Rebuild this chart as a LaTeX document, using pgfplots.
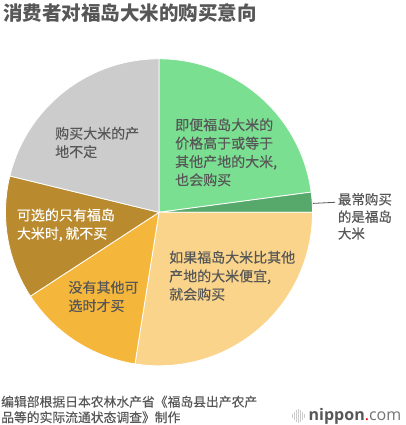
\documentclass[border=0pt]{standalone}
\usepackage{pgfplots}
\usepackage{pgfplotstable}
\pgfplotsset{compat=1.18}
\usepackage{fontspec}
\setmainfont{Noto Sans CJK SC}
\newfontfamily\medfont[FakeBold=0.35]{Noto Sans CJK SC}
\newfontfamily\logofont{Open Sans}

\definecolor{pgreen}{HTML}{7ADF91}
\definecolor{pdgreen}{HTML}{57A86B}
\definecolor{pyellow}{HTML}{FAD48A}
\definecolor{porange}{HTML}{F5B73B}
\definecolor{pgold}{HTML}{B98A2E}
\definecolor{pgray}{HTML}{CCCCCC}
\definecolor{txtgray}{HTML}{575757}

% share of answers, clockwise from 12 o'clock
\pgfplotstableread{
value colour
22.9  pgreen
2.1   pdgreen
27.5  pyellow
13.3  porange
13.0  pgold
21.2  pgray
}\piedata

% one line of text, centred vertically on y (pixel coords)
\newcommand\lbl[5][txtgray]{%
  \pgfmathsetmacro\bl{#3+0.38*#4}%
  \edef\tmp{\noexpand\node[anchor=base west, inner sep=0pt, text=#1,
    font=\noexpand\medfont\noexpand\fontsize{#4}{#4}\noexpand\selectfont] at (axis cs:#2,\bl)}%
  \tmp {#5};}
\newcommand\cm{,\hspace{2.5pt}}

\begin{document}
\begin{tikzpicture}
\begin{axis}[
    x=1pt, y=1pt,
    xmin=0, xmax=406,
    ymin=0, ymax=425,
    y dir=reverse,
    hide axis,
    clip=false,
]
\pgfplotstablegetrowsof{\piedata}
\pgfmathtruncatemacro\nrows{\pgfplotsretval-1}
\def\cum{0}
\pgfplotsforeachungrouped \i in {0,...,\nrows}{
    \pgfplotstablegetelem{\i}{value}\of\piedata \let\sv\pgfplotsretval
    \pgfplotstablegetelem{\i}{colour}\of\piedata \let\sc\pgfplotsretval
    \pgfmathsetmacro\sa{90-3.6*\cum}
    \pgfmathsetmacro\sb{90-3.6*(\cum+\sv)}
    \edef\slice{\noexpand\fill[fill=\sc, draw=white, line width=0.8pt]
        (axis cs:159,212.3) -- ++(\sa:153.5pt)
        arc[start angle=\sa, end angle=\sb, radius=153.5pt] -- cycle;}
    \slice
    \pgfmathsetmacro\cum{\cum+\sv}
}

% title
\node[anchor=base west, inner sep=0pt, text=txtgray,
      font=\fontsize{19.5}{19.5}\selectfont\bfseries] at (axis cs:3,20.4) {消费者对福岛大米的购买意向};

% slice labels
\lbl{175}{124.8}{14}{即便福岛大米的}
\lbl{175}{143.2}{14}{价格高于或等于}
\lbl{175}{161.6}{14}{其他产地的大米,}
\lbl{175}{179.8}{14}{也会购买}

\lbl{55}{133.3}{14}{购买大米的产}
\lbl{55}{151.7}{14}{地不定}

\lbl[white]{16.7}{215}{14}{可选的只有福岛}
\lbl[white]{16.7}{233.3}{14}{大米时\cm 就不买}

\lbl{68.3}{287.3}{14}{没有其他可}
\lbl{68.3}{305.7}{14}{选时才买}

\lbl{169}{257.3}{14}{如果福岛大米比其他}
\lbl{169}{276}{14}{产地的大米便宜,}
\lbl{169}{294.2}{14}{就会购买}

\draw[color=txtgray, line width=0.8pt] (axis cs:313,203.4) -- (axis cs:335,202.3);
\lbl{337.7}{199.3}{13.5}{最常购买}
\lbl{337.7}{216.7}{13.5}{的是福岛}
\lbl{337.7}{233.5}{13.5}{大米}

% source note
\lbl{1}{401.7}{12.8}{编辑部根据日本农林水产省《福岛县出产农产}
\lbl{1}{417.3}{12.8}{品等的实际流通状态调查》制作}

% logo
\draw[color=pgray, line width=1pt]
    (axis cs:292.5,413.5) -- (axis cs:292.5,418)
    (axis cs:294.5,411.5) -- (axis cs:294.5,420)
    (axis cs:296.5,410) -- (axis cs:296.5,421.5)
    (axis cs:298.5,409) -- (axis cs:298.5,422.5)
    (axis cs:300.5,410) -- (axis cs:300.5,421.5)
    (axis cs:302.5,411.5) -- (axis cs:302.5,420)
    (axis cs:304.5,413.5) -- (axis cs:304.5,418);
\node[anchor=base west, inner sep=0pt, font=\logofont\fontsize{16}{16}\selectfont]
    at (axis cs:308.5,420) {\textcolor{txtgray}{\bfseries nippon}\textcolor{red!85!black}{.}\textcolor{black!55}{com}};
\end{axis}
\pgfresetboundingbox
\path (0,0) rectangle (406pt,425pt);
\end{tikzpicture}
\end{document}
